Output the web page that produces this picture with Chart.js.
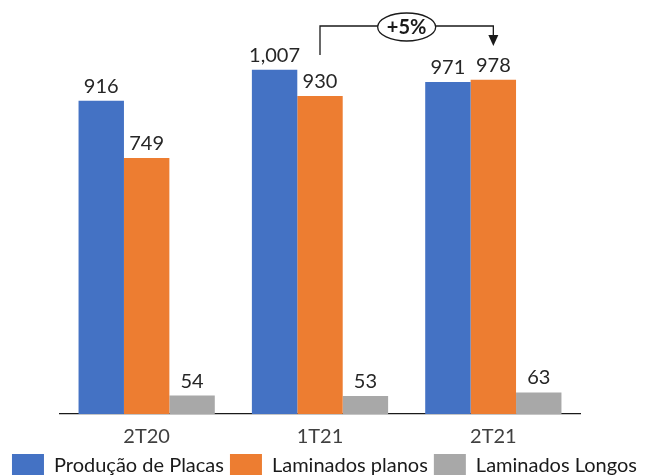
<!DOCTYPE html>
<html>
<head>
<meta charset="utf-8">
<script src="https://cdn.jsdelivr.net/npm/chart.js@4/dist/chart.umd.min.js"></script>
<style>
  html, body { margin: 0; padding: 0; background: #fff; }
  #wrap { width: 649px; height: 475px; }
</style>
</head>
<body>
<div id="wrap"><canvas id="prodChart" width="649" height="475"></canvas></div>
<script>
// Produção trimestral (mil t)
const periodos = ['2T20', '1T21', '2T21'];
const placas = [916, 1007, 971];
const planos = [749, 930, 978];
const longos = [54, 53, 63];
const variacaoPlanos = '+5%';

const FONT = 'Lato, "Open Sans", sans-serif';
const fmt = v => v.toLocaleString('en-US');

// rótulos de valor acima de cada barra
const valueLabels = {
    id: 'valueLabels',
    afterDatasetsDraw(chart) {
        const ctx = chart.ctx;
        ctx.save();
        ctx.font = '20px ' + FONT;
        ctx.fillStyle = '#262626';
        ctx.textAlign = 'center';
        ctx.textBaseline = 'alphabetic';
        chart.data.datasets.forEach((ds, i) => {
            chart.getDatasetMeta(i).data.forEach((bar, j) => {
                ctx.fillText(fmt(ds.data[j]), bar.x, bar.y - 8);
            });
        });
        ctx.restore();
    }
};

// chave com a variação dos laminados planos entre 1T21 e 2T21
const variacao = {
    id: 'variacao',
    afterDraw(chart) {
        const bars = chart.getDatasetMeta(1).data;
        const x1 = bars[1].x, x2 = bars[2].x;
        const yLine = 26;
        const ctx = chart.ctx;
        ctx.save();
        ctx.strokeStyle = '#1a1a1a';
        ctx.fillStyle = '#1a1a1a';
        ctx.lineWidth = 1.3;
        ctx.beginPath();
        ctx.moveTo(x1, 55);
        ctx.lineTo(x1, yLine);
        ctx.lineTo(x2, yLine);
        ctx.lineTo(x2, 36);
        ctx.stroke();
        // ponta da seta
        ctx.beginPath();
        ctx.moveTo(x2 - 5, 35);
        ctx.lineTo(x2 + 5, 35);
        ctx.lineTo(x2, 46);
        ctx.closePath();
        ctx.fill();
        // elipse com o percentual
        const cx = (x1 + x2) / 2;
        ctx.beginPath();
        ctx.ellipse(cx, 27, 29, 14, 0, 0, Math.PI * 2);
        ctx.fillStyle = '#fff';
        ctx.fill();
        ctx.stroke();
        ctx.fillStyle = '#1a1a1a';
        ctx.font = 'bold 20px ' + FONT;
        ctx.textAlign = 'center';
        ctx.textBaseline = 'middle';
        ctx.fillText(variacaoPlanos, cx, 28);
        ctx.restore();
    }
};

// eixos y invisíveis só para reservar as margens laterais da área do gráfico
const margem = w => ({
    display: true,
    min: 0,
    max: 1211,
    ticks: { display: false },
    grid: { display: false },
    border: { display: false },
    afterFit(scale) { scale.width = w; }
});

new Chart(document.getElementById('prodChart').getContext('2d'), {
    type: 'bar',
    data: {
        labels: periodos,
        datasets: [
            { label: 'Produção de Placas', data: placas, backgroundColor: '#4472C4' },
            { label: 'Laminados planos', data: planos, backgroundColor: '#ED7D31' },
            { label: 'Laminados Longos', data: longos, backgroundColor: '#A8A8A8' }
        ]
    },
    options: {
        responsive: false,
        animation: false,
        layout: { padding: { top: 0, left: 0, right: 0, bottom: -12 } },
        datasets: {
            bar: { categoryPercentage: 0.786, barPercentage: 1.0 }
        },
        plugins: {
            legend: {
                position: 'bottom',
                labels: {
                    boxWidth: 32,
                    boxHeight: 23,
                    padding: 6,
                    color: '#1a1a1a',
                    font: { family: FONT, size: 20 }
                }
            },
            tooltip: { enabled: false }
        },
        scales: {
            x: {
                grid: { display: false },
                border: { display: true, color: '#1a1a1a', width: 1.3 },
                ticks: { color: '#404040', padding: 3, font: { family: FONT, size: 20 } },
                afterFit(scale) { scale.height -= 4; }
            },
            y: margem(60),
            y2: Object.assign(margem(69), { position: 'right' })
        }
    },
    plugins: [valueLabels, variacao]
});
</script>
</body>
</html>
